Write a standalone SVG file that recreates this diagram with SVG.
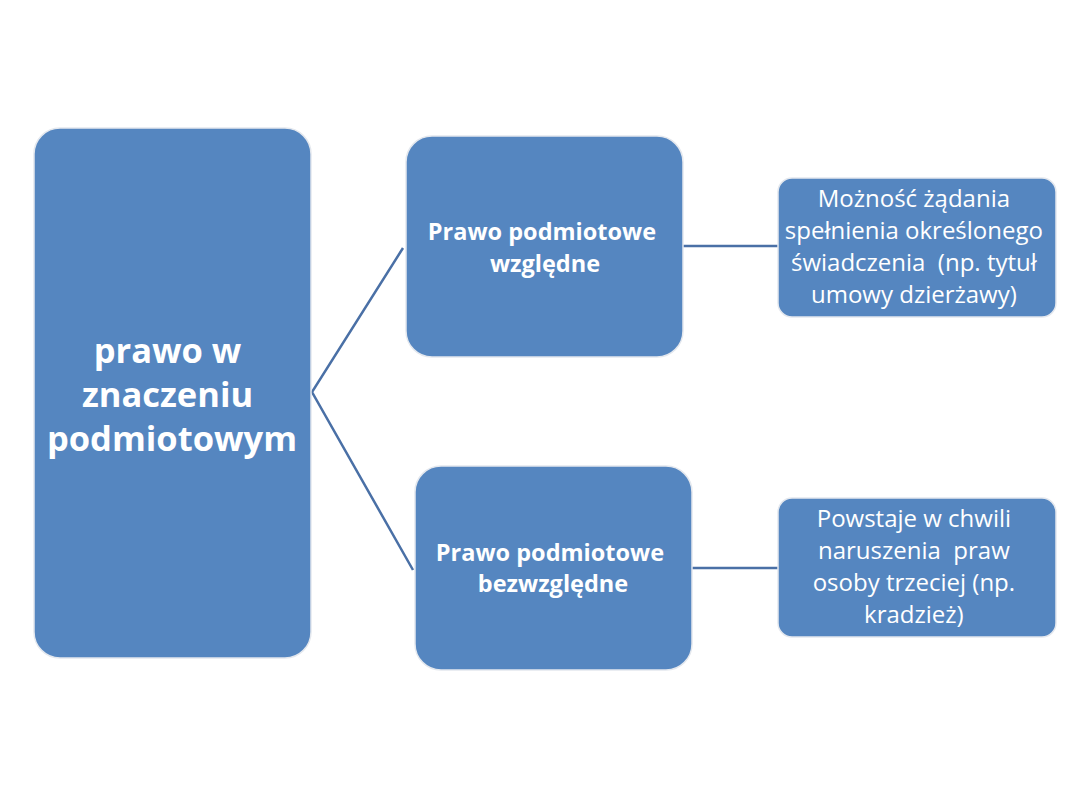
<svg xmlns="http://www.w3.org/2000/svg" width="1080" height="810" viewBox="0 0 1080 810">
<style>
.box{fill:#5586c0;stroke:#e4e8ee;stroke-width:1.5}
.bold{font-family:"Open Sans","Liberation Sans",sans-serif;font-weight:bold;fill:#fff;text-anchor:middle}
.reg{font-family:"Open Sans","Liberation Sans",sans-serif;fill:#fff;text-anchor:middle;font-size:24px;white-space:pre}
.conn{stroke:#4a70a6;stroke-width:2.5;fill:none}
</style>
<rect width="1080" height="810" fill="#fff"/>
<g id="connectors">
<polyline class="conn" points="403,248 312,392 413,570"/>
<line class="conn" x1="683" y1="246" x2="778" y2="246"/>
<line class="conn" x1="692" y1="568" x2="778" y2="568"/>
</g>
<g id="root">
<rect class="box" x="34" y="128" width="277" height="530" rx="26"/>
<text class="bold" font-size="34.5" x="172">
<tspan x="172" y="363">prawo w</tspan>
<tspan x="172" y="407">znaczeniu</tspan>
<tspan x="172" y="451">podmiotowym</tspan>
</text>
</g>
<g id="wzgledne">
<rect class="box" x="406" y="136" width="277" height="221" rx="26"/>
<text class="bold" font-size="23.5">
<tspan x="545" y="240">Prawo podmiotowe</tspan>
<tspan x="545" y="272">względne</tspan>
</text>
</g>
<g id="bezwzgledne">
<rect class="box" x="415" y="466" width="277" height="204" rx="26"/>
<text class="bold" font-size="23.5">
<tspan x="553" y="561">Prawo podmiotowe</tspan>
<tspan x="553" y="592">bezwzględne</tspan>
</text>
</g>
<g id="mozliwosc">
<rect class="box" x="778" y="178" width="278" height="139" rx="14"/>
<text class="reg">
<tspan x="917" y="207">Możność żądania</tspan>
<tspan x="917" y="239">spełnienia określonego</tspan>
<tspan x="917" y="271">świadczenia  (np. tytuł</tspan>
<tspan x="917" y="303">umowy dzierżawy)</tspan>
</text>
</g>
<g id="powstaje">
<rect class="box" x="778" y="498" width="278" height="139" rx="14"/>
<text class="reg">
<tspan x="917" y="527">Powstaje w chwili</tspan>
<tspan x="917" y="559">naruszenia  praw</tspan>
<tspan x="917" y="591">osoby trzeciej (np.</tspan>
<tspan x="917" y="623">kradzież)</tspan>
</text>
</g>
</svg>
